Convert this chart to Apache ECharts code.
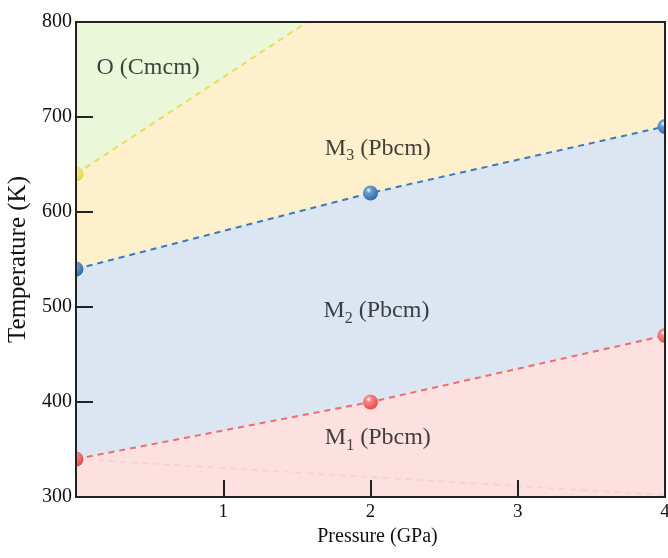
<!DOCTYPE html>
<html><head><meta charset="utf-8">
<script src="https://cdn.jsdelivr.net/npm/echarts@6/dist/echarts.min.js"></script>
<style>html,body{margin:0;padding:0;background:#fff}#c{width:668px;height:558px}</style>
</head><body><div id="c"></div>
<script>
// Data
const pressures = [0, 2, 4];
const tM1M2 = [340, 400, 470];      // M1 -> M2 boundary (K)
const tM2M3 = [540, 620, 690];      // M2 -> M3 boundary (K)
const oPressures = [0, 1.57];       // O (Cmcm) boundary
const oTemps = [640, 800];
const faintP = [0, 4];
const faintT = [340, 302];
const xTicks = ['', '1', '2', '3', '4'];
const yTicks = ['300', '400', '500', '600', '700', '800'];
const phaseLabels = [
  {name: 'O', p: 0.49, t: 752, text: 'O (Cmcm)'},
  {name: 'M3', p: 2.05, t: 667, text: '{m|M}{s|3}{m| (Pbcm)}'},
  {name: 'M2', p: 2.04, t: 496, text: '{m|M}{s|2}{m| (Pbcm)}'},
  {name: 'M1', p: 2.05, t: 362, text: '{m|M}{s|1}{m| (Pbcm)}'}
];

const font = 'Liberation Serif';
const txt = '#111';
const pair = (xs, ys) => xs.map((x, i) => [x, ys[i]]);

function sphere(light, dark) {
  return function (params, api) {
    const p = api.coord([api.value(0), api.value(1)]);
    return {
      type: 'circle',
      shape: {cx: p[0], cy: p[1], r: 7.5},
      style: {
        fill: new echarts.graphic.RadialGradient(0.38, 0.32, 0.7, [
          {offset: 0, color: '#ffffff'},
          {offset: 0.25, color: light},
          {offset: 1, color: dark}
        ])
      }
    };
  };
}

const chart = echarts.init(document.getElementById('c'), null, {renderer: 'canvas'});
const dashed = [6, 5];
chart.setOption({
  animation: false,
  grid: {left: 76, top: 22, width: 589, height: 475, show: true, borderColor: '#222', borderWidth: 2, z: 10,
         backgroundColor: 'transparent', containLabel: false, outerBoundsMode: 'none'},
  xAxis: {
    type: 'value', min: 0, max: 4, interval: 1, z: 10,
    name: 'Pressure (GPa)', nameLocation: 'middle', nameGap: 29,
    nameTextStyle: {fontFamily: font, fontSize: 20, color: txt, padding: [0, 0, 0, 14]},
    axisLine: {show: true, lineStyle: {color: '#222', width: 2}},
    axisTick: {show: true, inside: true, length: 17, lineStyle: {color: '#222', width: 2}},
    axisLabel: {fontFamily: font, fontSize: 19, color: txt, margin: 6, formatter: (v) => xTicks[Math.round(v)]},
    splitLine: {show: false}
  },
  yAxis: {
    type: 'value', min: 300, max: 800, interval: 100, z: 10,
    name: 'Temperature (K)', nameLocation: 'middle', nameGap: 43,
    nameTextStyle: {fontFamily: font, fontSize: 25, color: txt},
    axisLine: {show: true, lineStyle: {color: '#222', width: 2}},
    axisTick: {show: true, inside: true, length: 17, lineStyle: {color: '#222', width: 2}},
    axisLabel: {fontFamily: font, fontSize: 20, color: txt, margin: 4, formatter: (v) => yTicks[Math.round((v - 300) / 100)]},
    splitLine: {show: false}
  },
  series: [
    {type: 'line', data: [[0, 800], [4, 800]], symbol: 'none', lineStyle: {width: 0}, areaStyle: {color: '#fef0cd', opacity: 1, origin: 'start'}, z: 1},
    {type: 'line', data: pair(oPressures, oTemps), symbol: 'none', lineStyle: {color: '#e6df5a', width: 2, type: dashed}, areaStyle: {color: '#eaf7d8', opacity: 1, origin: 'end'}, z: 2},
    {type: 'line', data: pair(pressures, tM2M3), symbol: 'none', lineStyle: {color: '#3b78bf', width: 2, type: dashed}, areaStyle: {color: '#dbe6f2', opacity: 1, origin: 'start'}, z: 3},
    {type: 'line', data: pair(pressures, tM1M2), symbol: 'none', lineStyle: {color: '#f06b6b', width: 2, type: dashed}, areaStyle: {color: '#fde0e0', opacity: 1, origin: 'start'}, z: 4},
    {type: 'line', data: pair(faintP, faintT), symbol: 'none', lineStyle: {color: '#f7cccc', width: 1.5, type: dashed, opacity: 0.8}, z: 5},
    {type: 'custom', clip: true, data: pair(pressures, tM1M2), renderItem: sphere('#f58a8a', '#e5484b'), z: 6},
    {type: 'custom', clip: true, data: pair(pressures, tM2M3), renderItem: sphere('#6e9fd6', '#2f68ad'), z: 6},
    {type: 'custom', clip: true, data: [[oPressures[0], oTemps[0]]], renderItem: sphere('#f2ec7a', '#e0d846'), z: 6},
    {
      type: 'scatter', symbolSize: 0, z: 7,
      data: phaseLabels.map(d => ({value: [d.p, d.t], label: {formatter: d.text}})),
      label: {
        show: true, position: 'inside', color: txt, fontFamily: font, fontSize: 24,
        rich: {
          m: {fontFamily: font, fontSize: 24, color: txt, lineHeight: 31, verticalAlign: 'middle'},
          s: {fontFamily: font, fontSize: 16, color: txt, lineHeight: 15, verticalAlign: 'bottom'}
        }
      }
    }
  ]
});
</script></body></html>
